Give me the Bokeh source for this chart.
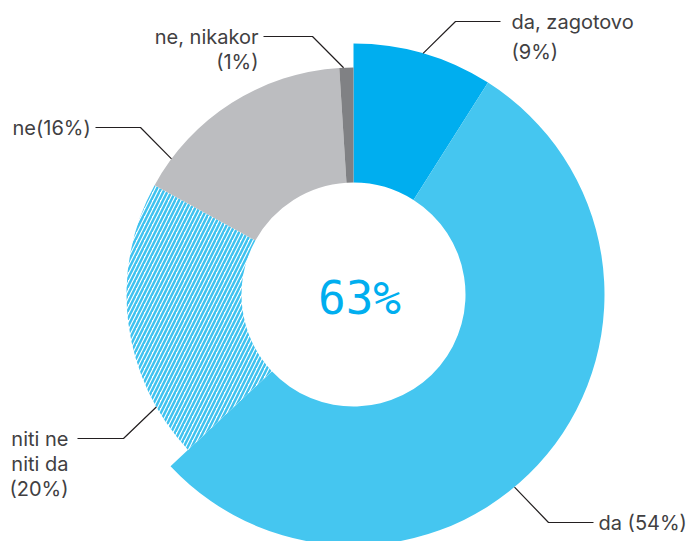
import math
from bokeh.plotting import figure
from bokeh.models import Range1d
from bokeh.core.properties import value
from bokeh.embed import file_html
from bokeh.resources import INLINE

# ---- data ----
categories = ["da, zagotovo", "da", "niti ne niti da", "ne", "ne, nikakor"]
shares = [9, 54, 20, 16, 1]
label_lines = [["da, zagotovo", "(9%)"], ["da (54%)"], ["niti ne", "niti da", "(20%)"],
               ["ne(16%)"], ["ne, nikakor", "(1%)"]]
highlight = [True, True, False, False, False]

# ---- layout / style ----
W, H = 688, 541
CX, CY = 353, 294          # screen pixels
R_IN = 112
R_OUT_HI, R_OUT_LO = 251, 227
colors = ["#00aeef", "#45c6f0", "#ffffff", "#bcbdc0", "#808184"]
hatches = [None, None, "right_diagonal_line", None, None]
TEXT_COLOR = "#414042"
LINE_COLOR = "#231f20"
FONT = "Inter"
FS = "20px"

def Y(py):
    return H - py

p = figure(width=W, height=H, output_backend="svg", toolbar_location=None,
           x_range=Range1d(0, W), y_range=Range1d(0, H),
           min_border=0, outline_line_color=None)
p.axis.visible = False
p.grid.visible = False
p.background_fill_color = "white"

total = sum(shares)
starts, ends, cum = [], [], 0
for s in shares:
    starts.append(math.pi / 2 - 2 * math.pi * cum / total)
    cum += s
    ends.append(math.pi / 2 - 2 * math.pi * cum / total)
outer = [R_OUT_HI if h else R_OUT_LO for h in highlight]

for i in range(len(shares)):
    kw = {}
    if hatches[i]:
        kw = dict(hatch_pattern=hatches[i], hatch_color="#3fc2ef", hatch_scale=8, hatch_weight=2.5)
    p.annular_wedge(x=CX, y=Y(CY), inner_radius=R_IN, outer_radius=outer[i],
                    start_angle=starts[i], end_angle=ends[i], direction="clock",
                    fill_color=colors[i], line_color=None, **kw)

# center total
hi_total = sum(s for s, h in zip(shares, highlight) if h)
p.text(x=[359], y=[Y(297)], text=[f"{hi_total}%"], text_font=value("DejaVu Sans Mono"),
       text_font_size="46px", text_color="#00aeef", text_align="center", text_baseline="middle")

# leaders: (angle clockwise from top in deg, radius, elbow, end) ; text positions
leaders = [
    (16.1, R_OUT_HI, (455, 21), (500, 21)),
    (140.1, R_OUT_HI, (548, 522), (593, 522)),
    (240.3, R_OUT_LO, (123, 438), (77, 438)),
    (306.7, R_OUT_LO, (140, 127), (95, 127)),
    (357.5, R_OUT_LO, (312, 36), (263, 36)),
]
text_pos = [
    (511, [21, 51], "left"),
    (598, [522], "left"),
    (68, [438, 463, 488], "right"),
    (12, [127], "left"),
    (258, [36, 61], "right"),
]
xs, ys = [], []
for ang, r, el, en in leaders:
    a = math.radians(ang)
    sx, sy = CX + r * math.sin(a), CY - r * math.cos(a)
    xs.append([sx, el[0], en[0]])
    ys.append([Y(sy), Y(el[1]), Y(en[1])])
p.multi_line(xs=xs, ys=ys, line_color=LINE_COLOR, line_width=1.2)

for lines, (tx, tys, al) in zip(label_lines, text_pos):
    p.text(x=[tx] * len(lines), y=[Y(t) for t in tys], text=lines, text_font=value(FONT),
           text_font_size=FS, text_color=TEXT_COLOR, text_align=al, text_baseline="middle")

open("out.html", "w").write(file_html(p, INLINE))
